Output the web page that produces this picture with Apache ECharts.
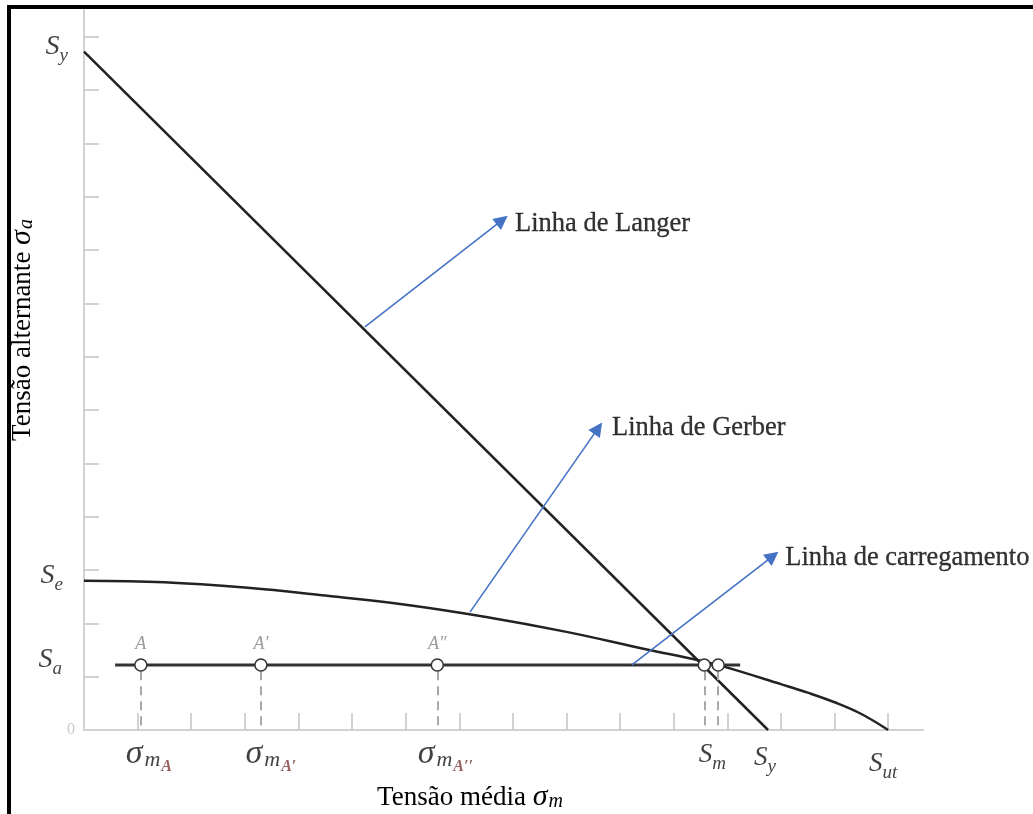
<!DOCTYPE html>
<html>
<head>
<meta charset="utf-8">
<script src="https://cdn.jsdelivr.net/npm/echarts@6/dist/echarts.min.js"></script>
<style>
html,body{margin:0;padding:0;background:#fff;}
#chart{width:1033px;height:814px;}
</style>
</head>
<body>
<div id="chart"></div>
<script>
// ---- data (in axis units) ----
const xTickValues = [1,2,3,4,5,6,7,8,9,10,11,12,13,14,15];
const yTickValues = [1,2,3,4,5,6,7,8,9,10,11,12,13];
const langerLine = [[0, 12.72], [12.76, 0]];
const gerberCurve = [[0,2.80],[1.5,2.77],[3.0,2.67],[4.5,2.52],[6.0,2.35],[7.5,2.12],[9.0,1.84],[10.5,1.51],[11.5,1.30],[12.0,1.17],[13.0,0.86],[13.5,0.70],[14.0,0.52],[14.5,0.30],[15.0,0]];
const loadLine = [[0.58, 1.22], [12.24, 1.22]];
const pointNames = ['A', 'A\u2032', 'A\u2033', '', ''];
const pointX = [1.06, 3.30, 6.59, 11.57, 11.83];
const pointY = 1.22;
const yLabelNames = ['Sy', 'Se', 'Sa', '0'];
const yLabelValues = [12.72, 2.80, 1.22, 0];
const xLabelNames = ['sA', 'sA1', 'sA2', 'Sm', 'Sy', 'Sut'];
const xLabelValues = [1.06, 3.30, 6.59, 11.57, 12.76, 15.0];
const arrowNames = ['Linha de Langer', 'Linha de Gerber', 'Linha de carregamento'];
const arrowFrom = [[5.24, 7.56], [7.20, 2.21], [10.22, 1.22]];
const arrowTo = [[7.80, 9.56], [9.59, 5.66], [12.85, 3.26]];
const arrowTextAt = [[8.04, 9.49], [9.85, 5.66], [13.08, 3.23]];

const SERIF = '"Liberation Serif", "Times New Roman", serif';
const brown = '#7a3a3c';

const mathRich = {
  S: {fontFamily: SERIF, fontStyle: 'italic', fontSize: 28, lineHeight: 28, padding: [0,0,10,0], color: '#111'},
  sub: {fontFamily: SERIF, fontStyle: 'italic', fontSize: 19, lineHeight: 19, padding: [14,0,5,0], color: '#111'},
  Sx: {fontFamily: SERIF, fontStyle: 'italic', fontSize: 27, lineHeight: 27, padding: [0,0,10,0], color: '#111'},
  subx: {fontFamily: SERIF, fontStyle: 'italic', fontSize: 19, lineHeight: 19, padding: [13,0,5,0], color: '#111'},
  sig: {fontFamily: SERIF, fontStyle: 'italic', fontSize: 34, lineHeight: 34, padding: [0,2,6,0], color: '#111'},
  m: {fontFamily: SERIF, fontStyle: 'italic', fontSize: 22, lineHeight: 22, padding: [12,1,6,0], color: '#111'},
  A: {fontFamily: SERIF, fontStyle: 'italic', fontWeight: 'bold', fontSize: 16, lineHeight: 16, padding: [22,0,2,0], color: brown},
  zero: {fontFamily: SERIF, fontSize: 16, color: '#bbb'}
};

function xLabelText(n) {
  switch (n) {
    case 'sA': return '{sig|σ}{m|m}{A|A}';
    case 'sA1': return '{sig|σ}{m|m}{A|A\u2032}';
    case 'sA2': return '{sig|σ}{m|m}{A|A\u2032\u2032}';
    case 'Sm': return '{Sx|S}{subx|m}';
    case 'Sy': return '{Sx|S}{subx|y}';
    case 'Sut': return '{Sx|S}{subx|ut}';
  }
}
function yLabelText(n) {
  if (n === '0') return '{zero|0}';
  return '{S|S}{sub|' + n.slice(1) + '}';
}
const xLabelOffset = [[8,0],[10,0],[8,0],[8,6],[-3,9],[-5,15]];
const yLabelDist = [16, 21, 22, 9];

const chart = echarts.init(document.getElementById('chart'));

const dashData = pointX.map(x => [{coord: [x, pointY - 0.12]}, {coord: [x, 0]}]);

const option = {
  animation: false,
  backgroundColor: '#fff',
  grid: {left: 84, right: 110, top: 10, bottom: 84, containLabel: false},
  xAxis: {
    type: 'value', min: 0, max: 15.65,
    axisLine: {show: true, lineStyle: {color: '#d2d2d2', width: 2}},
    axisTick: {show: true, inside: true, length: 17, customValues: xTickValues, lineStyle: {color: '#c4c4c4', width: 1.5}},
    axisLabel: {show: false},
    splitLine: {show: false}
  },
  yAxis: {
    type: 'value', min: 0, max: 13.5,
    axisLine: {show: true, lineStyle: {color: '#d2d2d2', width: 2}},
    axisTick: {show: true, inside: true, length: 15, customValues: yTickValues, lineStyle: {color: '#c4c4c4', width: 1.5}},
    axisLabel: {show: false},
    splitLine: {show: false}
  },
  series: [
    {
      type: 'line', data: langerLine, symbol: 'none', z: 3,
      lineStyle: {color: '#222', width: 2.5}
    },
    {
      type: 'line', data: gerberCurve, symbol: 'none', smooth: 0.4, z: 3,
      lineStyle: {color: '#222', width: 2.5}
    },
    {
      type: 'line', data: loadLine, symbol: 'none', z: 3,
      lineStyle: {color: '#333', width: 3}
    },
    {
      type: 'scatter', z: 5,
      data: pointX.map((x, i) => ({value: [x, pointY], name: pointNames[i]})),
      symbol: 'circle', symbolSize: 12,
      itemStyle: {color: '#fff', borderColor: '#333', borderWidth: 1.5, opacity: 1},
      label: {show: true, position: 'top', distance: 5, formatter: p => p.name,
        fontFamily: SERIF, fontStyle: 'italic', fontSize: 18, color: '#9a9a9a'},
      markLine: {
        silent: true, symbol: 'none', label: {show: false},
        lineStyle: {color: '#a8a8a8', width: 2, type: [9, 6]},
        data: dashData
      }
    },
    {
      type: 'scatter', symbolSize: 0, silent: true,
      data: xLabelValues.map((x, i) => ({value: [x, 0],
        label: {offset: xLabelOffset[i], formatter: xLabelText(xLabelNames[i])}})),
      label: {show: true, position: 'bottom', distance: 10, rich: mathRich}
    },
    {
      type: 'scatter', symbolSize: 0, silent: true,
      data: yLabelValues.map((y, i) => ({value: [0, y],
        label: {distance: yLabelDist[i], formatter: yLabelText(yLabelNames[i])}})),
      label: {show: true, position: 'left', rich: mathRich}
    },
    {
      type: 'lines', coordinateSystem: 'cartesian2d', silent: true, z: 6,
      symbol: ['none', 'triangle'], symbolSize: 14,
      lineStyle: {color: '#4472c4', width: 1.6, opacity: 1, curveness: 0},
      data: arrowFrom.map((f, i) => ({coords: [f, arrowTo[i]]}))
    },
    {
      type: 'scatter', symbolSize: 0, silent: true,
      data: arrowTextAt.map((p, i) => ({value: p, name: arrowNames[i]})),
      label: {show: true, position: 'right', distance: 0, formatter: p => p.name,
        fontFamily: SERIF, fontSize: 26.5, color: '#000', textBorderColor: '#000', textBorderWidth: 0.3}
    }
  ],
  graphic: [
    {type: 'rect', shape: {x: 9, y: 7, width: 1200, height: 1000}, style: {fill: 'none', stroke: '#000', lineWidth: 4}, z: 100},
    {type: 'text', x: 470, y: 800, style: {
      text: '{t|Tensão média }{sig|σ}{m|m}', align: 'center', verticalAlign: 'middle',
      rich: {t: {fontFamily: SERIF, fontSize: 27, lineHeight: 30, padding: [0,0,4,0], fill: '#000'},
             sig: {fontFamily: SERIF, fontStyle: 'italic', fontSize: 30, lineHeight: 30, padding: [0,1,6,0], fill: '#000'},
             m: {fontFamily: SERIF, fontStyle: 'italic', fontSize: 20, lineHeight: 20, padding: [10,0,6,0], fill: '#000'}}
    }},
    {type: 'text', x: 25, y: 330, rotation: Math.PI / 2, style: {
      text: '{t|Tensão alternante }{sig|σ}{m|a}', align: 'center', verticalAlign: 'middle',
      rich: {t: {fontFamily: SERIF, fontSize: 27, lineHeight: 30, padding: [0,0,4,0], fill: '#000'},
             sig: {fontFamily: SERIF, fontStyle: 'italic', fontSize: 30, lineHeight: 30, padding: [0,1,6,0], fill: '#000'},
             m: {fontFamily: SERIF, fontStyle: 'italic', fontSize: 20, lineHeight: 20, padding: [10,0,6,0], fill: '#000'}}
    }}
  ]
};
chart.setOption(option);
</script>
</body>
</html>
